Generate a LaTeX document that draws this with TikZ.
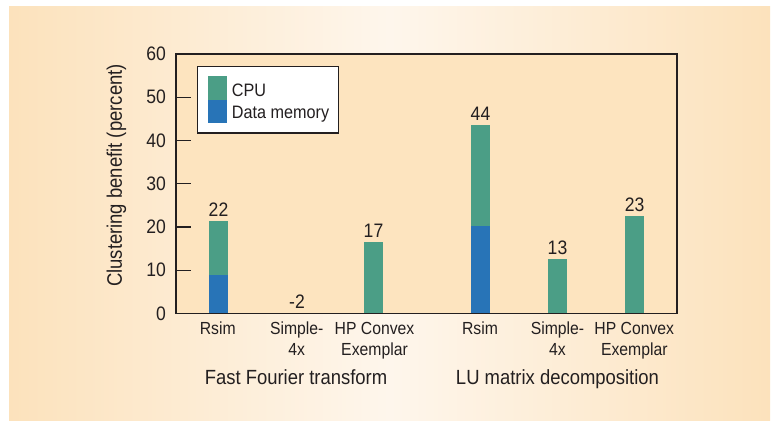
\documentclass[tikz,border=0pt]{standalone}
\usepackage{fontspec}
\setmainfont{Liberation Sans}
\newfontfamily\cf[FakeStretch=0.9]{Liberation Sans}
\newfontfamily\af[FakeStretch=0.88]{Liberation Sans}
\definecolor{peach}{HTML}{FCE2BC}
\definecolor{paperc}{HTML}{FEF6EC}
\definecolor{plotfill}{HTML}{FDE4BF}
\definecolor{cpu}{HTML}{4B9E86}
\definecolor{dmem}{HTML}{2874B7}
\definecolor{ink}{HTML}{231F20}
\begin{document}
\begin{tikzpicture}[x=1pt,y=-1pt,
  txt/.style={inner sep=0pt,text=ink},
  ticklab/.style={txt,anchor=east,font=\cf\fontsize{19.5}{19.5}\selectfont},
  vallab/.style={txt,anchor=base,font=\cf\fontsize{19.5}{19.5}\selectfont},
  catlab/.style={txt,anchor=base,font=\cf\fontsize{17.5}{21}\selectfont,align=center},
  grplab/.style={txt,anchor=base,font=\cf\fontsize{20.5}{20.5}\selectfont},
  leglab/.style={txt,anchor=base west,font=\cf\fontsize{18}{18}\selectfont},
  cpubar/.style={fill=cpu},
  dmbar/.style={fill=dmem},
  axisline/.style={draw=ink,line width=1.3pt},
  tickline/.style={draw=ink,line width=1.1pt}]
\useasboundingbox (0,0) rectangle (775,420);
\fill[white] (0,0) rectangle (775,420);
\shade[left color=peach,right color=peach,middle color=paperc] (9,7) rectangle (770,420);
% plot area
\fill[plotfill] (176,54) rectangle (677,313.5);
% bars FFT
\fill[cpubar] (209,221.4) rectangle (228,313.5);
\fill[dmbar] (209,275.4) rectangle (228,313.5);
\fill[cpubar] (364,241.7) rectangle (383,313.5);
% bars LU
\fill[cpubar] (471,124.9) rectangle (490,313.5);
\fill[dmbar] (471,225.7) rectangle (490,313.5);
\fill[cpubar] (548,258.6) rectangle (567,313.5);
\fill[cpubar] (625,215.8) rectangle (644,313.5);
% axes box
\draw[axisline] (176,54) rectangle (677,313.5);
% ticks and labels
\foreach \v/\yy in {10/270.25,20/227,30/183.75,40/140.5,50/97.25}{
  \draw[tickline] (176,\yy) -- (191,\yy);
}
\foreach \v/\yy in {0/313.5,10/270.25,20/227,30/183.75,40/140.5,50/97.25,60/54}{
  \node[ticklab] (t\v) at (166,\yy) {\v};
}
% y-axis label
\node[txt,rotate=90,font=\af\fontsize{21}{21}\selectfont] (ylab) at (116.5,175.5) {Clustering benefit (percent)};
% value labels
\node[vallab] (v1) at (218.5,216.8) {22};
\node[vallab] (v2) at (297,308.3) {-2};
\node[vallab] (v3) at (373.5,237.2) {17};
\node[vallab] (v4) at (480.5,120.4) {44};
\node[vallab] (v5) at (557.5,254.1) {13};
\node[vallab] (v6) at (634.5,211.3) {23};
% category labels (base = last line baseline)
\node[catlab] (c1) at (217.7,334) {Rsim};
\node[catlab] (c2) at (296.7,355) {Simple-\\4x};
\node[catlab] (c3) at (374.5,355) {HP Convex\\Exemplar};
\node[catlab] (c4) at (480,334) {Rsim};
\node[catlab] (c5) at (557.5,355) {Simple-\\4x};
\node[catlab] (c6) at (634.3,355) {HP Convex\\Exemplar};
% group labels
\node[grplab] (g1) at (296,384.3) {Fast Fourier transform};
\node[grplab] (g2) at (557.5,384.3) {LU matrix decomposition};
% legend
\draw[fill=white,draw=ink,line width=1.3pt] (197.5,66.5) rectangle (338.5,133);
\fill[cpubar] (208,76) rectangle (227,100);
\fill[dmbar] (208,100) rectangle (227,122.7);
\node[leglab] (l1) at (231.7,96.7) {CPU};
\node[leglab] (l2) at (231.7,118.3) {Data memory};
\end{tikzpicture}
\end{document}
